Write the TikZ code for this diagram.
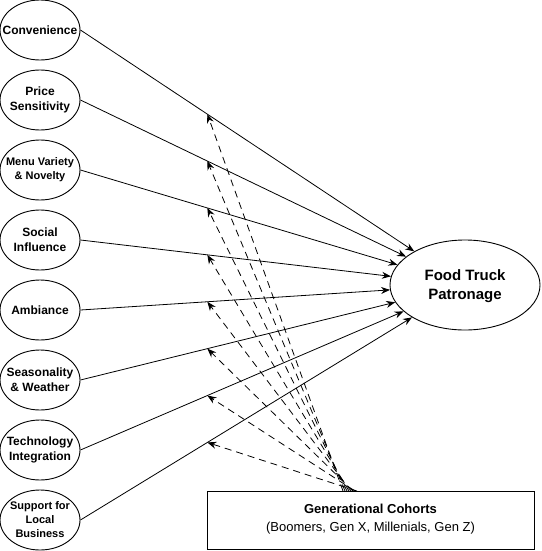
\documentclass[tikz,border=0pt]{standalone}
\usepackage{fontspec}
\setmainfont{Liberation Sans}
\usetikzlibrary{shapes.geometric,arrows.meta,calc}
\begin{document}
\begin{tikzpicture}[x=1pt,y=-1pt,
  factor/.style={ellipse,draw,line width=0.9pt,minimum width=80pt,minimum height=60pt,inner sep=0pt},
  ftext/.style={align=center,inner sep=0pt,font=\bfseries\fontsize{12}{15}\selectfont},
  fsmall/.style={align=center,inner sep=0pt,font=\bfseries\fontsize{11}{14}\selectfont},
  outcome/.style={ellipse,draw,line width=0.9pt,minimum width=150pt,minimum height=90pt,inner sep=0pt},
  cohortbox/.style={rectangle,draw,line width=0.9pt,minimum width=327pt,minimum height=58pt,inner sep=0pt},
  effect/.style={line width=0.8pt,-{Stealth[length=9pt,width=7pt,inset=3pt]}},
  moderation/.style={line width=0.8pt,dash pattern=on 7pt off 5pt,-{Stealth[length=9pt,width=7pt,inset=3pt]}}
]
\useasboundingbox (0,0) rectangle (541,551);

% outcome
\node[outcome] (tgt) at (465,285) {};
\node[align=center,inner sep=0pt,font=\bfseries\fontsize{15}{19}\selectfont] (tgtlabel) at (465,286) {Food Truck\\Patronage};

% moderator box
\node[cohortbox] (coh) at (370.5,520) {};
\node[align=center,inner sep=0pt,font=\fontsize{13}{18}\selectfont] (cohlabel) at (370.5,519) {\textbf{Generational Cohorts}\\(Boomers, Gen X, Millenials, Gen Z)};

% factors
\node[factor] (s1) at (40,30) {};
\node[ftext] (t1) at (40,30) {Convenience};
\node[factor] (s2) at (40,100) {};
\node[ftext] (t2) at (40,100) {Price\\Sensitivity};
\node[factor] (s3) at (40,170) {};
\node[fsmall] (t3) at (40,170) {Menu Variety\\\& Novelty};
\node[factor] (s4) at (40,240) {};
\node[ftext] (t4) at (40,240) {Social\\Influence};
\node[factor] (s5) at (40,310) {};
\node[ftext] (t5) at (40,310) {Ambiance};
\node[factor] (s6) at (40,380) {};
\node[ftext] (t6) at (40,380) {Seasonality\\\& Weather};
\node[factor] (s7) at (40,450) {};
\node[ftext] (t7) at (40,450) {Technology\\Integration};
\node[factor] (s8) at (40,520) {};
\node[fsmall] (t8) at (40,520) {Support for\\Local\\Business};

% direct effects and moderation
\foreach \i/\sx in {1/343,2/345,3/347,4/349,5/351,6/353,7/355,8/357}{
  \draw[effect] (s\i.east) -- (tgt);
  \coordinate (m\i) at ($(s\i.east)!0.33!(tgt.center)$);
  \coordinate (o\i) at (\sx,491);
  \draw[moderation] (o\i) -- (m\i);
}
\end{tikzpicture}
\end{document}
